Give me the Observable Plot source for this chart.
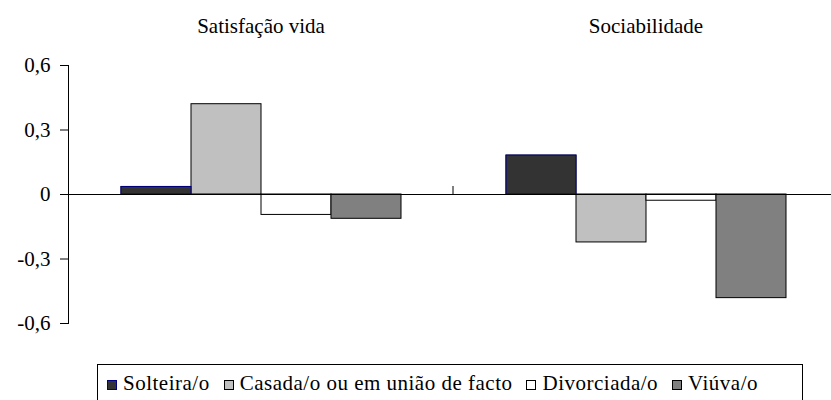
<!DOCTYPE html>
<html>
<head>
<meta charset="utf-8">
<script src="https://cdn.jsdelivr.net/npm/d3@7"></script>
<script src="https://cdn.jsdelivr.net/npm/@observablehq/plot@0.6"></script>
<style>
  body { margin: 0; background: #fff; font-family: "Times New Roman", "Liberation Serif", serif; }
  #legend {
    margin-left: 97px; margin-top: 4px; width: 706px; height: 40px;
    border: 1px solid #000; box-sizing: border-box;
    padding-left: 9px; font-size: 21px; letter-spacing: 0.5px; line-height: 36px; color: #000; white-space: nowrap;
  }
  .item { display: inline-block; margin-right: 14px; }
  .sw { display: inline-block; width: 10px; height: 10px; box-sizing: border-box; border: 1px solid #000; margin-right: 6px; }
</style>
</head>
<body>
<div id="chart"></div>
<div id="legend"></div>
<script>
const groups = ["Satisfação vida", "Sociabilidade"];
const statuses = ["Solteira/o", "Casada/o ou em união de facto", "Divorciada/o", "Viúva/o"];
const satisfacaoVida = [0.035, 0.42, -0.095, -0.113];
const sociabilidade = [0.181, -0.223, -0.029, -0.482];
const yTicks = [-0.6, -0.3, 0, 0.3, 0.6];
const fills = ["#333333", "#c0c0c0", "#ffffff", "#808080"];
const strokes = ["#000080", "#000000", "#000000", "#000000"];

const seriesByGroup = [satisfacaoVida, sociabilidade];
const rows = groups.flatMap((g, gi) => statuses.map((s, si) => ({group: g, status: s, value: seriesByGroup[gi][si]})));

const fmt = d => d === 0 ? "0" : d3.format(".1f")(d).replace(".", ",").replace("\u2212", "-");

const plot = Plot.plot({
  width: 831,
  height: 360,
  marginLeft: 68,
  marginRight: -7,
  marginTop: 65,
  marginBottom: 37,
  style: {fontFamily: "Times New Roman, Liberation Serif, serif", fontSize: "21px", color: "#000", background: "#fff"},
  fx: {domain: groups, paddingInner: 0, paddingOuter: 0, axis: "top", tickSize: 0, tickPadding: 33, label: null},
  x: {domain: statuses, paddingInner: 0, paddingOuter: 0.725, axis: null},
  y: {domain: [-0.6, 0.6], ticks: yTicks, tickFormat: fmt, tickSize: 8, tickPadding: 10, label: null, line: true},
  color: {domain: statuses, range: fills},
  marks: [
    Plot.barY(rows, {fx: "group", x: "status", y: "value", fill: "status", stroke: "#000", strokeWidth: 1}),
    Plot.barY(rows.filter(d => d.status === statuses[0]), {fx: "group", x: "status", y: "value", fill: "status", stroke: strokes[0], strokeWidth: 1}),
    Plot.ruleY([0], {stroke: "#000", strokeWidth: 1})
  ]
});

document.getElementById("chart").appendChild(plot);

// category boundary tick between the two groups, placed via the plot's own scales
const fxS = plot.scale("fx"), yS = plot.scale("y");
const bx = fxS.apply(groups[1]);
const y0 = yS.apply(0);
d3.select(plot).append("line")
  .attr("x1", bx).attr("x2", bx)
  .attr("y1", y0).attr("y2", y0 - 8)
  .attr("stroke", "#000");

// legend
const legend = d3.select("#legend");
statuses.forEach((s, i) => {
  const it = legend.append("span").attr("class", "item");
  it.append("span").attr("class", "sw").style("background", fills[i]).style("border-color", strokes[i]);
  it.append("span").text(s);
});
</script>
</body>
</html>
